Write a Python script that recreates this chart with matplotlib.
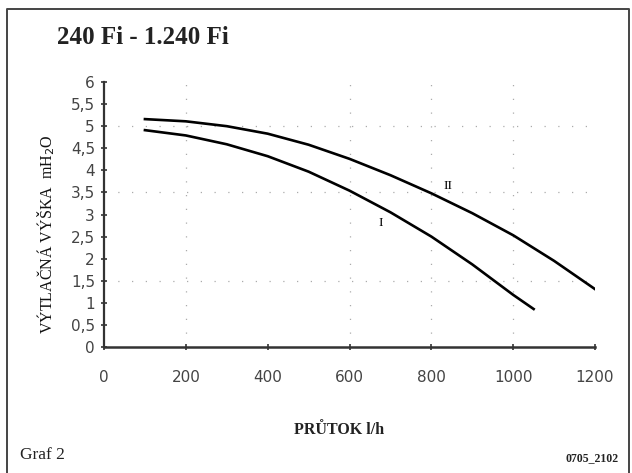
import numpy as np
import matplotlib.pyplot as plt

# ─────────────────────────────────────────────
# Data (flow l/h vs head m H2O)
# ─────────────────────────────────────────────
flow_I = [100, 200, 300, 400, 500, 600, 700, 800, 900, 1000, 1050]
head_I = [4.91, 4.79, 4.59, 4.32, 3.97, 3.54, 3.05, 2.50, 1.87, 1.18, 0.86]

flow_II = [100, 200, 300, 400, 500, 600, 700, 800, 900, 1000, 1100, 1200]
head_II = [5.16, 5.11, 5.00, 4.83, 4.58, 4.26, 3.89, 3.48, 3.03, 2.53, 1.95, 1.31]

x_ticks = [0, 200, 400, 600, 800, 1000, 1200]
y_ticks = [0, 0.5, 1, 1.5, 2, 2.5, 3, 3.5, 4, 4.5, 5, 5.5, 6]
y_labels = [f"{v:g}".replace(".", ",") for v in y_ticks]

title = "240 Fi - 1.240 Fi"
serif = ["Liberation Serif", "DejaVu Serif"]

fig = plt.figure(figsize=(6.32, 4.73), dpi=100)
ax = fig.add_axes([0.1646, 0.2664, 0.9415 - 0.1646, 0.8266 - 0.2664])

# faint broken grid remnants (scan artefacts in the original)
for gx in [200, 600, 800, 1000]:
    ax.axvline(gx, color="#666666", lw=0.9, ls=(0, (1, 10)), alpha=0.55, zorder=1)
for gy in [1.5, 3.5, 5]:
    ax.axhline(gy, color="#666666", lw=0.9, ls=(0, (1, 10)), alpha=0.55, zorder=1)

ax.plot(flow_I, head_I, color="black", lw=1.9, zorder=3)
ax.plot(flow_II, head_II, color="black", lw=1.9, zorder=3)
ax.text(677, 2.8, "I", fontsize=9.5, family=serif, ha="center", va="center")
ax.text(840, 3.64, "II", fontsize=9.5, family=serif, ha="center", va="center")

ax.set_xlim(0, 1200)
ax.set_ylim(0, 6)
ax.set_xticks(x_ticks)
ax.set_yticks(y_ticks)
ax.set_yticklabels(y_labels)
for s in ["top", "right"]:
    ax.spines[s].set_visible(False)
ax.spines["left"].set_linewidth(1.6)
ax.spines["bottom"].set_linewidth(1.8)
ax.spines["left"].set_color("#333333")
ax.spines["bottom"].set_color("#333333")
ax.tick_params(axis="both", direction="inout", length=5, width=1.2,
               colors="#333333", labelsize=11, labelcolor="#444444")
ax.tick_params(axis="x", pad=14)
ax.tick_params(axis="y", pad=4)

fig.text(0.073, 0.505, "VÝTLAČNÁ VÝŠKA  mH$_2$O", rotation=90, fontsize=11.5,
         family=serif, ha="center", va="center", color="#111111")
fig.text(0.537, 0.091, "PRŮTOK l/h", fontsize=11.5, family=serif, weight="bold",
         ha="center", va="center", color="#222222")
fig.text(0.090, 0.920, title, fontsize=18, family=serif, weight="bold",
         ha="left", va="center", color="#222222")
fig.text(0.032, 0.038, "Graf 2", fontsize=12.5, family=serif,
         ha="left", va="center", color="#222222")
fig.text(0.979, 0.032, "0705_2102", fontsize=8.5, family=serif, weight="bold",
         ha="right", va="center", color="#222222")

# outer frame (left, top, right)
frame_x = [0.011, 0.011, 0.995, 0.995]
frame_y = [0.0, 0.981, 0.981, 0.0]
fig.add_artist(plt.Line2D(frame_x, frame_y, transform=fig.transFigure,
                          color="#444444", lw=1.4))

fig.savefig("out.png", dpi=100)
